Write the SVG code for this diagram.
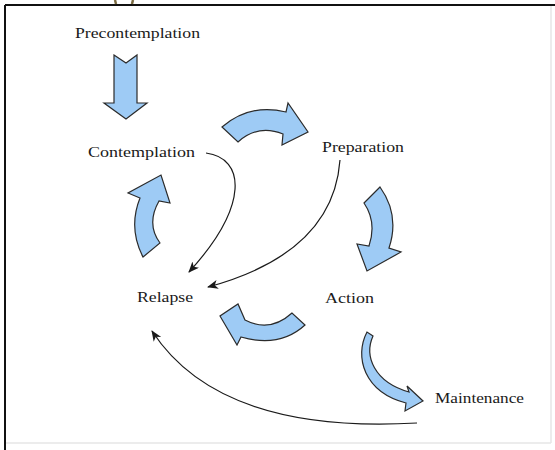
<svg xmlns="http://www.w3.org/2000/svg" width="555" height="450" viewBox="0 0 555 450">
  <defs>
    <style>
      .lbl { font-family: "Liberation Serif", "Times New Roman", serif; font-size: 15px; fill: #1a1a1a; }
      .blk { fill: #9ecbf5; stroke: #2b2b2b; stroke-width: 1.2; stroke-linejoin: miter; }
      .thin { fill: none; stroke: #1a1a1a; stroke-width: 1.2; }
    </style>
    <marker id="ah" markerUnits="userSpaceOnUse" markerWidth="12" markerHeight="10" refX="10" refY="4.5" orient="auto">
      <path d="M0,0 L11,4.5 L0,9 L3,4.5 Z" fill="#1a1a1a"/>
    </marker>
  </defs>

  <rect x="0" y="0" width="555" height="450" fill="#ffffff"/>
  <g id="frame">
    <line x1="551" y1="6" x2="551" y2="443" stroke="#e6e6e6" stroke-width="1.5"/>
    <line x1="6" y1="443" x2="551" y2="443" stroke="#e6e6e6" stroke-width="1.5"/>
    <line x1="5" y1="5" x2="555" y2="5" stroke="#111" stroke-width="2"/>
    <line x1="5" y1="5" x2="5" y2="450" stroke="#111" stroke-width="2"/>
    <line x1="115" y1="0" x2="116" y2="4" stroke="#7a6a40" stroke-width="2.5"/>
    <line x1="133" y1="0" x2="132" y2="4" stroke="#7a6a40" stroke-width="2.5"/>
  </g>

  <g id="connectors">
    <path id="arrow-pre-con" class="blk" d="M114,55 L126,63 L137,55 L137,103 L147,103 L126,119 L104,103 L114,103 Z"/>
    <path id="arrow-con-prep" class="blk" d="M222,127 Q250,103 286,112 L288,103 L308,132 L282,145 L283,134 Q258,124 238,142 Z"/>
    <path id="arrow-prep-act" class="blk" d="M364,203 L380,187 Q400,215 389,248 L401,252 L367,271 L357,244 L369,246 Q377,222 364,203 Z"/>
    <path id="arrow-act-rel" class="blk" d="M292,313 Q270,333 245,320 L238,304 L220,316 L237,345 L241,337 Q280,348 305,325 Z"/>
    <path id="arrow-rel-con" class="blk" d="M143,257 Q128,228 140,198 L128,193 L161,175 L170,203 L159,201 Q146,224 160,243 Z"/>
    <path id="arrow-act-main" class="blk" d="M373,336 C364,356 374,382 409,392 L407,386 L423,401 L405,411 L406,403 C364,392 354,357 367,332 Z"/>
    <path id="line-con-rel" class="thin" marker-end="url(#ah)" d="M206,153 C245,158 250,205 189,272"/>
    <path id="line-prep-rel" class="thin" marker-end="url(#ah)" d="M340,160 C336,215 300,262 208,287"/>
    <path id="line-main-rel" class="thin" marker-end="url(#ah)" d="M417,423 C330,428 210,420 152,331"/>
  </g>

  <g id="precontemplation"><text class="lbl" x="75" y="38" textLength="125" lengthAdjust="spacingAndGlyphs">Precontemplation</text></g>
  <g id="contemplation"><text class="lbl" x="88" y="157" textLength="107" lengthAdjust="spacingAndGlyphs">Contemplation</text></g>
  <g id="preparation"><text class="lbl" x="322" y="152" textLength="82" lengthAdjust="spacingAndGlyphs">Preparation</text></g>
  <g id="relapse"><text class="lbl" x="137" y="302" textLength="56" lengthAdjust="spacingAndGlyphs">Relapse</text></g>
  <g id="action"><text class="lbl" x="325" y="303" textLength="49" lengthAdjust="spacingAndGlyphs">Action</text></g>
  <g id="maintenance"><text class="lbl" x="435" y="403" textLength="89" lengthAdjust="spacingAndGlyphs">Maintenance</text></g>
</svg>
